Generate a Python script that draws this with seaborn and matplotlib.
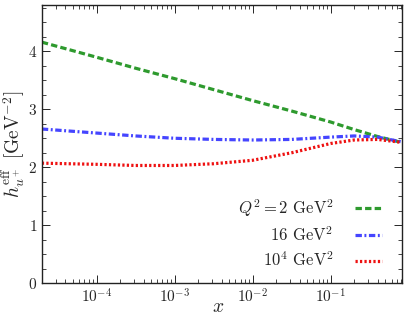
import numpy as np
import pandas as pd
import seaborn as sns
import matplotlib.pyplot as plt

# valores (log10 x)
log_x = [-4.7, -4.0, -3.5, -3.0, -2.5, -2.0, -1.5, -1.0, -0.7, -0.4, -0.1]
h_q2_2 = [4.16, 3.90, 3.71, 3.53, 3.34, 3.15, 2.97, 2.78, 2.65, 2.53, 2.43]
h_q2_16 = [2.66, 2.59, 2.54, 2.50, 2.48, 2.47, 2.48, 2.52, 2.54, 2.52, 2.44]
h_q2_1e4 = [2.07, 2.05, 2.03, 2.03, 2.06, 2.12, 2.25, 2.41, 2.47, 2.48, 2.43]
labels = [r'$Q^2 = 2$ GeV$^2$', r'16 GeV$^2$', r'$10^4$ GeV$^2$']

sns.set_style('ticks')
plt.rcParams['font.family'] = 'serif'
plt.rcParams['font.serif'] = ['cmr10', 'DejaVu Serif']
plt.rcParams['mathtext.fontset'] = 'cm'
plt.rcParams['axes.unicode_minus'] = False
plt.rcParams['axes.formatter.use_mathtext'] = True

x = 10 ** np.array(log_x)
df = pd.DataFrame({'x': x, 'a': h_q2_2, 'b': h_q2_16, 'c': h_q2_1e4})

fig = plt.figure(figsize=(4.07, 3.18), dpi=100)
ax = fig.add_axes([0.103, 0.110, 0.885, 0.874])

sns.lineplot(data=df, x='x', y='a', ax=ax, color='#2e9a2e', lw=2.3,
             linestyle=(0, (2, 1)), label=labels[0])
sns.lineplot(data=df, x='x', y='b', ax=ax, color='#4545ff', lw=2.3,
             linestyle=(0, (2, 0.8, 0.6, 0.8)), label=labels[1])
sns.lineplot(data=df, x='x', y='c', ax=ax, color='#ee1111', lw=2.3,
             linestyle=(0, (0.7, 0.7)), label=labels[2])

ax.set_xscale('log')
ax.set_xlim(2e-5, 0.82)
ax.set_ylim(0, 4.8)
ax.set_yticks([0, 1, 2, 3, 4])
ax.yaxis.set_minor_locator(plt.MultipleLocator(0.25))
ax.tick_params(which='both', direction='in', top=True, right=True, labelsize=11)
ax.tick_params(which='major', length=6, width=0.7)
ax.tick_params(which='minor', length=3, width=0.6)
for s in ax.spines.values():
    s.set_linewidth(1.0)
    s.set_color('#222222')

ax.set_xlabel(r'$x$', fontsize=14)
ax.xaxis.set_label_coords(0.49, -0.055)
ax.set_ylabel(r'$h^{\rm eff}_{u^+}$ [GeV$^{-2}$]', fontsize=14)
ax.yaxis.set_label_coords(-0.042, 0.5)

ax.legend(loc='lower right', frameon=False, markerfirst=False, fontsize=12,
          handlelength=1.6, handletextpad=1.3, labelspacing=0.4,
          bbox_to_anchor=(0.985, -0.005))

plt.savefig('out.png', dpi=100)
plt.close()
